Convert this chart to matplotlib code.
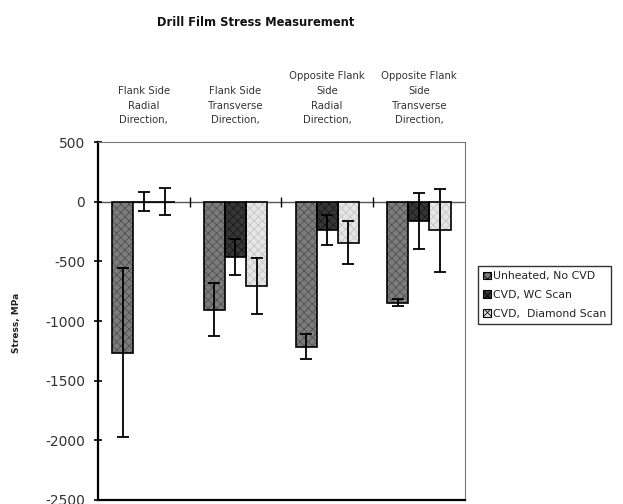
import numpy as np
import matplotlib
matplotlib.use("Agg")
import matplotlib.pyplot as plt

# category labels (shown above the plot)
categories = ["Flank Side\nRadial\nDirection,",
              "Flank Side\nTransverse\nDirection,",
              "Opposite Flank\nSide\nRadial\nDirection,",
              "Opposite Flank\nSide\nTransverse\nDirection,"]
series = ["Unheated, No CVD", "CVD, WC Scan", "CVD,  Diamond Scan"]

# stress values, MPa
unheated = [-1265, -905, -1215, -845]
cvd_wc = [0, -460, -235, -160]
cvd_diamond = [0, -710, -345, -240]
# error bar half-lengths
err_unheated = [710, 220, 105, 30]
err_wc = [80, 150, 125, 235]
err_diamond = [115, 235, 180, 345]

yticks = [500, 0, -500, -1000, -1500, -2000, -2500]

values = [unheated, cvd_wc, cvd_diamond]
errors = [err_unheated, err_wc, err_diamond]
faces = ["#7c7c7c", "#363636", "#e6e6e6"]
hatch_cols = ["#505050", "#1a1a1a", "#c4c4c4"]

plt.rcParams["hatch.linewidth"] = 0.6

fig = plt.figure(figsize=(6.23, 5.04), dpi=100)
ax = fig.add_axes([0.157, 0.008, 0.589, 0.71])

x = np.arange(len(categories))
w = 0.23
for i in range(3):
    pos = x + (i - 1) * w
    ax.bar(pos, values[i], w, color=faces[i], edgecolor=hatch_cols[i],
           hatch="xxxx", linewidth=0, zorder=2)
    ax.bar(pos, values[i], w, color="none", edgecolor="black",
           linewidth=1.2, zorder=3)
    ax.errorbar(pos, values[i], yerr=errors[i], fmt="none", ecolor="black",
                elinewidth=1.3, capsize=4, capthick=1.3, zorder=4)

# legend proxies with the fill colours
handles = [matplotlib.patches.Patch(facecolor=faces[i], edgecolor="black",
                                    hatch="xxxx", linewidth=0.8)
           for i in range(3)]
leg = ax.legend(handles, series, loc="center left", bbox_to_anchor=(1.035, 0.573),
                fontsize=7.8, frameon=True, fancybox=False, edgecolor="black",
                handlelength=0.7, handleheight=0.7, handletextpad=0.2,
                borderpad=0.5, labelspacing=0.8, borderaxespad=0)
leg.get_frame().set_linewidth(1.0)
for t in leg.get_texts():
    t.set_color("#222222")

ax.set_xlim(-0.5, 3.5)
ax.set_ylim(-2500, 500)
ax.set_yticks(yticks)
ax.set_yticklabels([str(v) for v in yticks], fontsize=10, color="#333333")
ax.tick_params(axis="y", direction="inout", length=6, width=1.2, pad=6)

# category axis crossing at zero with boundary ticks
ax.axhline(0, color="#555555", linewidth=1.0, zorder=1)
bounds = np.arange(0.5, 3.5, 1.0)
ax.plot(bounds, np.zeros_like(bounds), "|", color="black", markersize=7,
        markeredgewidth=1.0, zorder=1)

ax.xaxis.tick_top()
ax.set_xticks(x)
ax.set_xticklabels(categories, fontsize=7.3, color="#333333", linespacing=1.6)
ax.tick_params(axis="x", length=0, pad=12)

for side in ["top", "right"]:
    ax.spines[side].set_color("#777777")
    ax.spines[side].set_linewidth(0.8)
for side in ["left", "bottom"]:
    ax.spines[side].set_color("black")
    ax.spines[side].set_linewidth(1.6)

fig.text(0.026, 0.36, "Stress, MPa", rotation=90, fontsize=6.5,
         fontweight="bold", ha="center", va="center", color="#222222")
fig.text(0.41, 0.955, "Drill Film Stress Measurement", fontsize=8.3,
         fontweight="bold", ha="center", va="center", color="#111111")

fig.savefig("out.png", dpi=100)
